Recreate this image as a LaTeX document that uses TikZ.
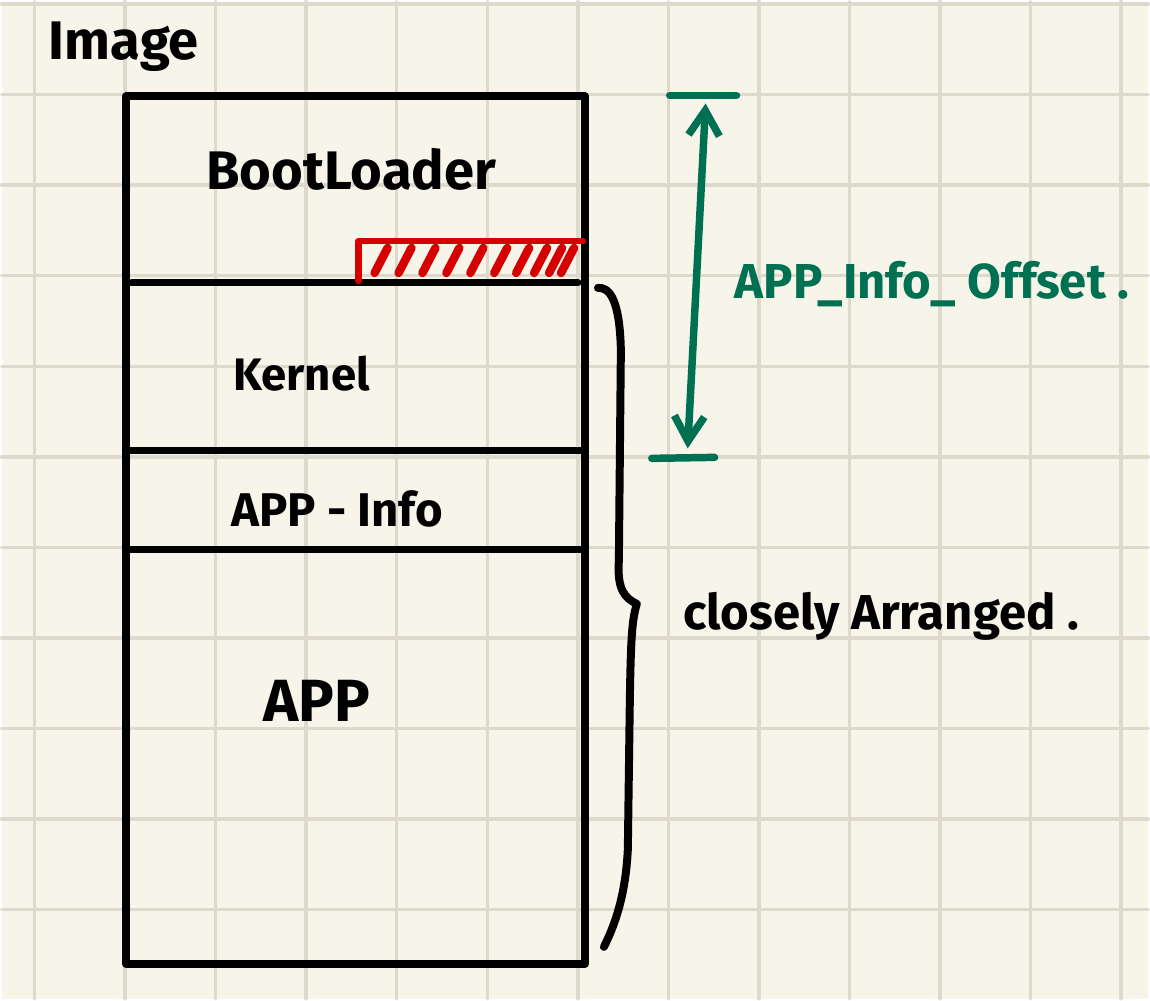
\documentclass[tikz,border=0pt]{standalone}
\usepackage{fontspec}
\setmainfont{Fira Sans}
\usetikzlibrary{arrows.meta}

\definecolor{paper}{HTML}{F7F5EA}
\definecolor{gridgray}{HTML}{DDD9CD}
\definecolor{inkred}{HTML}{D60000}
\definecolor{inkgreen}{HTML}{007052}

\begin{document}
\begin{tikzpicture}[
    x=0.02cm, y=-0.02cm,
    line cap=round, line join=round,
    gridline/.style={gridgray, line width=0.07cm},
    wall/.style={line width=0.16cm},
    divider/.style={line width=0.14cm},
    hatch/.style={inkred, line width=0.13cm},
    measure/.style={inkgreen, line width=0.15cm},
    hand/.style={font=\bfseries\fontsize{#1}{#1}\selectfont, inner sep=0pt, anchor=base west},
    hand/.default=28
]

    % Paper and grid
    \fill[paper] (0,0) rectangle (1150,1000);
    \foreach \k in {0,...,12}
        \draw[gridline] (33+90.8*\k,0) -- (33+90.8*\k,1000);
    \foreach \k in {0,...,10}
        \draw[gridline] (0,2.4+90.8*\k) -- (1150,2.4+90.8*\k);

    % Coordinates
    \coordinate (TL) at (125,95);    % top left of image
    \coordinate (BR) at (585,965);   % bottom right of image

    % Image frame and section borders
    \draw[wall] (TL) rectangle (BR);
    \draw[divider] (130,282) -- (578,282);
    \draw[divider] (125,450) -- (585,450);
    \draw[divider] (125,549) -- (585,549);

    % Labels
    \node[hand=31] (image) at (47,58) {Image};
    \node[hand=31] (boot) at (205,188) {BootLoader};
    \node[hand=26] (kernel) at (232,390) {Kernel};
    \node[hand=27] (info) at (230,526) {APP - Info};
    \node[hand=34] (app) at (262,722) {APP};

    % Reserved area at the end of the bootloader
    \draw[hatch] (358,280) -- (358,240) -- (583,240);
    \foreach \x in {374,398,422,446,470,494,516,534,549,561}
        \draw[hatch, line width=0.17cm] (\x,272) -- (\x+13,247);

    % Offset measure
    \coordinate (offTop) at (706,102);
    \coordinate (offBot) at (688,448);
    \draw[measure] (670,94) -- (737,94);
    \draw[measure] (652,458) -- (715,457);
    \draw[measure, {Straight Barb[length=0.5cm, width=0.62cm]}-{Straight Barb[length=0.5cm, width=0.6cm]}]
        (offTop) -- (offBot);
    \node[hand=28, text=inkgreen] (offset) at (735,298) {APP\_Info\_ Offset .};

    % Brace over kernel, app info and app
    \draw[wall] (598,287) .. controls (610,286) and (620,300) .. (621,350)
        -- (619,560) .. controls (617,590) and (625,598) .. (637,604)
        .. controls (632,620) and (631,640) .. (630,700)
        -- (628,850) .. controls (626,890) and (618,920) .. (604,948);
    \node[hand=28] (close) at (683,630) {closely Arranged .};

\end{tikzpicture}
\end{document}
